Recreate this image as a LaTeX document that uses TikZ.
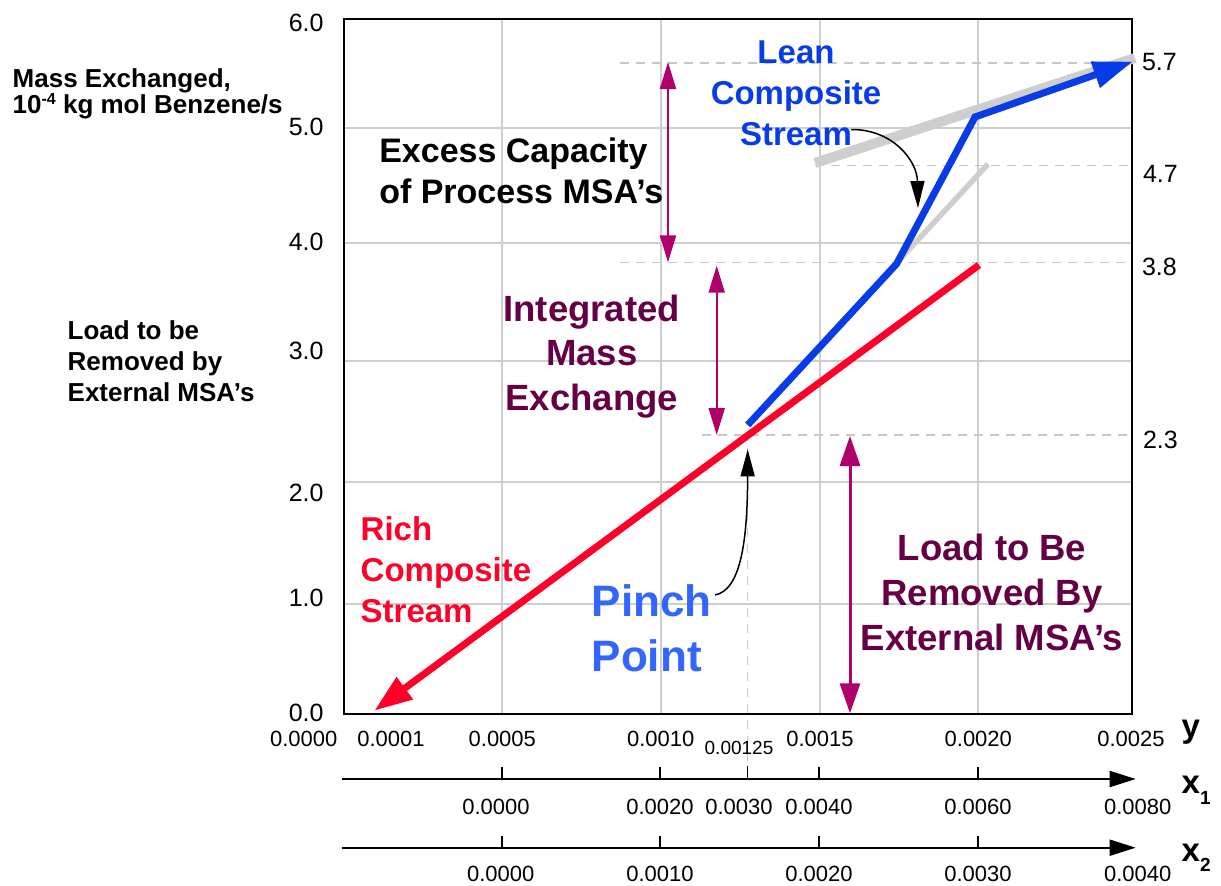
\documentclass[tikz,border=0pt]{standalone}
\usepackage{fontspec}
\setmainfont{Liberation Sans}
\usetikzlibrary{arrows.meta}
\definecolor{maroontxt}{RGB}{102,0,68}
\definecolor{magarrow}{RGB}{176,0,106}
\definecolor{richred}{RGB}{255,0,40}
\definecolor{leanblue}{RGB}{8,60,230}
\definecolor{pinchblue}{RGB}{51,102,255}
\definecolor{gridgray}{RGB}{206,206,206}
\definecolor{dashgray}{RGB}{200,200,200}
\newcommand{\fsz}[2]{\fontsize{#1pt}{#2pt}\selectfont}
\tikzset{
  every node/.style={inner sep=0pt, outer sep=0pt},
  ticklab/.style={font=\fsz{25}{25}, anchor=east},
  blab/.style={font=\fsz{22}{22}, anchor=center},
  rlab/.style={font=\fsz{25}{25}, anchor=west},
  gridline/.style={draw=gridgray, line width=2pt},
  refdash/.style={draw=dashgray, line width=1.3pt, dash pattern=on 9pt off 7pt},
  frameline/.style={draw=black, line width=2pt},
  magarr/.style={draw=magarrow, line width=2pt, {Triangle[length=27pt,width=16pt]}-{Triangle[length=27pt,width=16pt]}},
  bigmagarr/.style={draw=magarrow, line width=3pt, {Triangle[length=30pt,width=20pt]}-{Triangle[length=30pt,width=20pt]}},
  callout/.style={draw=black, line width=1.5pt, -{Triangle[length=27pt,width=14pt]}},
  axisline/.style={draw=black, line width=2pt, -{Triangle[length=26pt,width=16pt]}},
  tickmark/.style={draw=black, line width=2pt},
  boldlab/.style={font=\bfseries\fsz{26}{26}},
}
\begin{document}
\begin{tikzpicture}[x=1pt,y=-1pt]
\useasboundingbox (0,0) rectangle (1221,886);
% grid
\foreach \gx in {502,660.5,819.5,977.7} \draw[gridline] (\gx,20) -- (\gx,713);
\foreach \gy in {127.7,243.3,361,482,604} \draw[gridline] (345,\gy) -- (1131,\gy);
% reference dashed lines
\draw[refdash] (620,63) -- (1132,63);
\draw[refdash] (815,165.3) -- (1132,165.3);
\draw[refdash] (620,262.3) -- (1132,262.3);
\draw[refdash] (701.7,435) -- (1132,435);
\draw[refdash] (747.7,432) -- (747.7,766);
% frame
\draw[frameline] (344,19) rectangle (1132,714);
% gray guide lines
\coordinate (g1a) at (815,163);
\coordinate (g1b) at (1135,58);
\coordinate (g2a) at (747.7,424);
\coordinate (g2b) at (988,164);
\draw[gridgray, line width=10pt] (g1a) -- (g1b);
\draw[gridgray, line width=5.5pt] (g2a) -- (g2b);
% rich composite stream
\coordinate (r1) at (979,265);
\coordinate (r2) at (374.3,710.7);
\draw[richred, line width=7pt, -{Triangle[length=38pt,width=26pt]}] (r1) -- (r2);
% lean composite stream
\coordinate (b1) at (747.7,425);
\coordinate (b2) at (896.5,264);
\coordinate (b3) at (975,117);
\coordinate (b4) at (1133,61.5);
\draw[leanblue, line width=7pt, -{Triangle[length=40pt,width=26pt]}] (b1) -- (b2) -- (b3) -- (b4);
% magenta arrows
\coordinate (m1a) at (668,62);
\coordinate (m1b) at (668,262.3);
\coordinate (m2a) at (716.7,265.7);
\coordinate (m2b) at (716.7,435);
\coordinate (m3a) at (850,436);
\coordinate (m3b) at (850,713.3);
\draw[magarr] (m1a) -- (m1b);
\draw[magarr] (m2a) -- (m2b);
\draw[bigmagarr] (m3a) -- (m3b);
% y tick labels
\node[ticklab] (y6) at (323.5,23) {6.0};
\node[ticklab] (y5) at (323.5,126.7) {5.0};
\node[ticklab] (y4) at (323.5,241.7) {4.0};
\node[ticklab] (y3) at (323.5,350.7) {3.0};
\node[ticklab] (y2) at (323.5,492.5) {2.0};
\node[ticklab] (y1) at (323.5,598.3) {1.0};
\node[ticklab] (y0) at (323.5,713.3) {0.0};
% right labels
\node[rlab] (r57) at (1142,62.5) {5.7};
\node[rlab] (r47) at (1143,174) {4.7};
\node[rlab] (r38) at (1142,266.7) {3.8};
\node[rlab] (r23) at (1143,440) {2.3};
% y-axis (bottom) labels
\node[blab] (ya) at (303.7,739.3) {0.0000};
\node[blab] (yb) at (391,739.3) {0.0001};
\node[blab] (yc) at (502.3,739.3) {0.0005};
\node[blab] (yd) at (660.7,739.3) {0.0010};
\node[blab, font=\fsz{19}{19}] (ye) at (739,748) {0.00125};
\node[blab] (yf) at (820,739.3) {0.0015};
\node[blab] (yg) at (978.3,739.3) {0.0020};
\node[blab] (yh) at (1131,739.3) {0.0025};
\node[anchor=base west, font=\bfseries\fsz{33}{33}] (ylet) at (1181.7,737) {y};
% x1 axis
\coordinate (x1s) at (341.7,779);
\coordinate (x1e) at (1135.7,779);
\draw[axisline] (x1s) -- (x1e);
\foreach \tx in {501.7,660.3,819.3,977.7} \draw[tickmark] (\tx,767) -- (\tx,779);
\draw[black, line width=1.2pt] (747.7,766) -- (747.7,779);
\node[blab] (xa1) at (496,806.7) {0.0000};
\node[blab] (xb1) at (660,806.7) {0.0020};
\node[blab] (xc1) at (739,806.7) {0.0030};
\node[blab] (xd1) at (819,806.7) {0.0040};
\node[blab] (xe1) at (978,806.7) {0.0060};
\node[blab] (xf1) at (1137.7,806.7) {0.0080};
\node[anchor=base west, font=\bfseries\fsz{33}{33}] (x1let) at (1181.7,793.3) {x\raisebox{-11pt}{\fsz{19}{19}1}};
% x2 axis
\coordinate (x2s) at (341.7,847.7);
\coordinate (x2e) at (1135.7,847.7);
\draw[axisline] (x2s) -- (x2e);
\foreach \tx in {501.7,660.3,819.3,977.7} \draw[tickmark] (\tx,836) -- (\tx,848);
\node[blab] (xa2) at (500.7,874) {0.0000};
\node[blab] (xb2) at (660,874) {0.0010};
\node[blab] (xc2) at (819,874) {0.0020};
\node[blab] (xd2) at (978,874) {0.0030};
\node[blab] (xe2) at (1137.7,874) {0.0040};
\node[anchor=base west, font=\bfseries\fsz{33}{33}] (x2let) at (1181.7,861.7) {x\raisebox{-10pt}{\fsz{19}{19}2}};
% texts (base anchor = baseline of last line)
\node[boldlab, anchor=base west, align=left] (mass) at (12.7,113.3) {Mass Exchanged,\\10\raisebox{9pt}{\fsz{16}{16}-4} kg mol Benzene/s};
\node[anchor=base west, align=left, font=\bfseries\fsz{26}{31.3}] (loadl) at (67.7,401.7) {Load to be\\Removed by\\External MSA’s};
\node[anchor=base west, align=left, font=\bfseries\fsz{34}{40.6}] (excess) at (379.3,203.3) {Excess Capacity\\of Process MSA’s};
\node[anchor=base, align=center, text=maroontxt, font=\bfseries\fsz{36.5}{44.2}] (integ) at (591.7,410) {Integrated\\Mass\\Exchange};
\node[anchor=base, align=center, text=leanblue, font=\bfseries\fsz{33}{41}] (lean) at (796,145) {Lean\\Composite\\Stream};
\node[anchor=base west, align=left, text=richred, font=\bfseries\fsz{33}{41}] (rich) at (360.7,622.7) {Rich\\Composite\\Stream};
\node[anchor=base west, align=left, text=pinchblue, font=\bfseries\fsz{44}{55}] (pinch) at (591.7,671.7) {Pinch\\Point};
\node[anchor=base, align=center, text=maroontxt, font=\bfseries\fsz{36.5}{45}] (loadr) at (992,650.7) {Load to Be\\Removed By\\External MSA’s};
% callout arrows
\coordinate (leanstart) at (851,129.5);
\coordinate (leantip) at (918,208);
\draw[callout] (leanstart) .. controls (892,129) and (917,160) .. (leantip);
\coordinate (pinchstart) at (715,595);
\coordinate (pinchtip) at (747.7,449.3);
\draw[callout] (pinchstart) .. controls (741,590) and (747.5,540) .. (pinchtip);
\end{tikzpicture}
\end{document}
